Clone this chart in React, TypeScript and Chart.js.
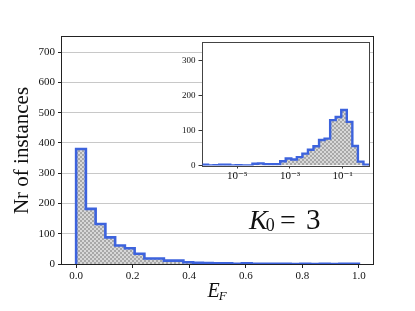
import React, { useEffect, useRef } from "react";
import { Chart, registerables } from "chart.js";

Chart.register(...registerables);

// ---------------- data ----------------
// main histogram of E_F (linear bins between the range below)
const mainBinRange = [0, 1];
const mainCounts = [380, 182, 132, 88, 61, 52, 34, 18, 18, 11, 11, 6, 4, 3, 2, 2, 1, 2, 1, 1, 1, 1, 0, 1, 0, 1, 0, 1, 1];
const mainXLimits = [-0.05, 1.05];
const mainYLimits = [0, 750];
const mainXTicks = [0, 0.2, 0.4, 0.6, 0.8, 1.0];
const mainYTicks = [0, 100, 200, 300, 400, 500, 600, 700];

// inset histogram (log10-spaced bins between the exponents below)
const insetLogBinRange = [-6.32, 0];
const insetCounts = [2, 0, 1, 2, 2, 0, 1, 0, 0, 5, 6, 4, 4, 4, 12, 20, 17, 24, 34, 45, 55, 73, 77, 130, 139, 159, 125, 56, 11, 2];
const insetYLimits = [0, 350];
const insetXTicks = [1e-5, 1e-3, 1e-1];
const insetYTicks = [0, 100, 200, 300];

const yTitle = "Nr of instances";
const annotation = { sym: "K", sub: "0", eq: "=", val: "3" };
const xTitle = { sym: "E", sub: "F" };

// --------------------------------------
const SERIF = '"Liberation Serif", "DejaVu Serif", serif';
const LINE = "#3d63dd";
const INK = "#111111";

function linEdges(lo: number, hi: number, n: number): number[] {
  return Array.from({ length: n + 1 }, (_, i) => lo + ((hi - lo) * i) / n);
}
function stepPoints(edges: number[], counts: number[]) {
  const pts: { x: number; y: number }[] = [{ x: edges[0], y: 0 }];
  counts.forEach((c, i) => pts.push({ x: edges[i], y: c }));
  pts.push({ x: edges[counts.length], y: 0 });
  return pts;
}
function makeHatch(): CanvasPattern | string {
  const c = document.createElement("canvas");
  c.width = 4;
  c.height = 4;
  const g = c.getContext("2d");
  if (!g) return "#bdbdbd";
  g.fillStyle = "#d8d8d8";
  g.fillRect(0, 0, 4, 4);
  g.fillStyle = "#a8a8a8";
  g.fillRect(0, 0, 2, 2);
  g.fillRect(2, 2, 2, 2);
  return g.createPattern(c, "repeat") || "#bdbdbd";
}
const SUP: Record<string, string> = {
  "-": "\u207B", "0": "\u2070", "1": "\u00B9", "2": "\u00B2", "3": "\u00B3",
  "4": "\u2074", "5": "\u2075", "6": "\u2076", "7": "\u2077", "8": "\u2078", "9": "\u2079",
};
function powLabel(v: number): string {
  const e = String(Math.round(Math.log10(v)));
  return "10" + e.split("").map((ch) => SUP[ch] || ch).join("");
}

function spines(color: string) {
  return {
    id: "spines",
    beforeDatasetsDraw(chart: any) {
      const { ctx, chartArea: a } = chart;
      ctx.save();
      ctx.strokeStyle = color;
      ctx.lineWidth = 1;
      const l = Math.round(a.left) - 0.5;
      const t = Math.round(a.top) - 0.5;
      const r = Math.round(a.right) + 0.5;
      const b = Math.round(a.bottom) + 0.5;
      ctx.strokeRect(l, t, r - l, b - t);
      ctx.restore();
    },
  };
}

const mainLabels = {
  id: "mainLabels",
  afterDraw(chart: any) {
    const { ctx, chartArea: a } = chart;
    ctx.save();
    ctx.fillStyle = INK;
    ctx.textBaseline = "alphabetic";
    ctx.textAlign = "left";
    // x title E_F
    const cx = (a.left + a.right) / 2;
    ctx.font = `italic 20px ${SERIF}`;
    const wE = ctx.measureText(xTitle.sym).width;
    ctx.font = `italic 13px ${SERIF}`;
    const wF = ctx.measureText(xTitle.sub).width;
    const x0 = cx - (wE + wF) / 2;
    ctx.font = `italic 20px ${SERIF}`;
    ctx.fillText(xTitle.sym, x0, 296.5);
    ctx.font = `italic 13px ${SERIF}`;
    ctx.fillText(xTitle.sub, x0 + wE - 1, 299.5);
    // annotation K_0 = 3
    const ax = 249;
    const ay = 228.5;
    ctx.font = `italic 28px ${SERIF}`;
    ctx.fillText(annotation.sym, ax, ay);
    const wK = ctx.measureText(annotation.sym).width;
    ctx.font = `18px ${SERIF}`;
    ctx.fillText(annotation.sub, ax + wK - 2, ay + 2);
    ctx.font = `28px ${SERIF}`;
    ctx.fillText(annotation.eq, ax + 31, ay);
    ctx.font = `29px ${SERIF}`;
    ctx.fillText(annotation.val, ax + 57, ay);
    ctx.restore();
  },
};

const whiteArea = {
  id: "whiteArea",
  beforeDraw(chart: any) {
    const { ctx, chartArea: a } = chart;
    ctx.save();
    ctx.fillStyle = "#ffffff";
    ctx.fillRect(a.left, a.top, a.right - a.left, a.bottom - a.top);
    ctx.restore();
  },
};

export default function App() {
  const mainRef = useRef<HTMLCanvasElement | null>(null);
  const insetRef = useRef<HTMLCanvasElement | null>(null);

  useEffect(() => {
    if (!mainRef.current || !insetRef.current) return;
    const hatch = makeHatch();

    const mainEdges = linEdges(mainBinRange[0], mainBinRange[1], mainCounts.length);
    const main = new Chart(mainRef.current, {
      type: "line",
      data: {
        datasets: [
          {
            data: stepPoints(mainEdges, mainCounts),
            stepped: "before",
            borderColor: LINE,
            borderWidth: 2.6,
            backgroundColor: hatch as any,
            fill: "origin",
            pointRadius: 0,
            borderJoinStyle: "miter",
          } as any,
        ],
      },
      options: {
        responsive: false,
        animation: false,
        devicePixelRatio: 1,
        layout: { padding: { left: 0, top: 37, right: 42, bottom: 0 } },
        plugins: { legend: { display: false }, tooltip: { enabled: false } },
        scales: {
          x: {
            type: "linear",
            min: mainXLimits[0],
            max: mainXLimits[1],
            afterBuildTicks: (s: any) => {
              s.ticks = mainXTicks.map((v) => ({ value: v }));
            },
            afterFit: (s: any) => {
              s.height = 47;
            },
            border: { display: false },
            grid: { drawOnChartArea: false, drawTicks: true, tickLength: 4, tickColor: "#222", tickWidth: 1 },
            ticks: {
              autoSkip: false,
              maxRotation: 0,
              padding: 2,
              color: INK,
              font: { family: SERIF, size: 11 },
              callback: (v: any) => Number(v).toFixed(1),
            },
          },
          y: {
            type: "linear",
            min: mainYLimits[0],
            max: mainYLimits[1],
            afterBuildTicks: (s: any) => {
              s.ticks = mainYTicks.map((v) => ({ value: v }));
            },
            afterFit: (s: any) => {
              s.width = 62;
            },
            border: { display: false },
            grid: { color: "#c8c8c8", lineWidth: 1, drawTicks: true, tickLength: 4, tickColor: "#222", tickWidth: 1 },
            ticks: { padding: 3, color: INK, font: { family: SERIF, size: 11 } },
            title: {
              display: true,
              text: yTitle,
              color: INK,
              font: { family: SERIF, size: 21 },
              padding: { top: 10, bottom: 0 },
            },
          },
        },
      },
      plugins: [spines("#222"), mainLabels],
    });

    const insetEdges = linEdges(insetLogBinRange[0], insetLogBinRange[1], insetCounts.length).map((e) => Math.pow(10, e));
    const inset = new Chart(insetRef.current, {
      type: "line",
      data: {
        datasets: [
          {
            data: stepPoints(insetEdges, insetCounts),
            stepped: "before",
            borderColor: LINE,
            borderWidth: 2.4,
            backgroundColor: hatch as any,
            fill: "origin",
            pointRadius: 0,
            borderJoinStyle: "miter",
          } as any,
        ],
      },
      options: {
        responsive: false,
        animation: false,
        devicePixelRatio: 1,
        layout: { padding: { left: 0, top: 6.5, right: 6, bottom: 0 } },
        plugins: { legend: { display: false }, tooltip: { enabled: false } },
        scales: {
          x: {
            type: "logarithmic",
            min: Math.pow(10, insetLogBinRange[0]),
            max: Math.pow(10, insetLogBinRange[1]),
            afterBuildTicks: (s: any) => {
              s.ticks = insetXTicks.map((v) => ({ value: v, major: true }));
            },
            afterFit: (s: any) => {
              s.height = 21.5;
            },
            border: { display: false },
            grid: { drawOnChartArea: false, drawTicks: true, tickLength: 3, tickColor: "#333", tickWidth: 1 },
            ticks: {
              autoSkip: false,
              maxRotation: 0,
              padding: 1,
              color: INK,
              font: { family: SERIF, size: 11 },
              callback: (v: any) => powLabel(Number(v)),
            },
          },
          y: {
            type: "linear",
            min: insetYLimits[0],
            max: insetYLimits[1],
            afterBuildTicks: (s: any) => {
              s.ticks = insetYTicks.map((v) => ({ value: v }));
            },
            afterFit: (s: any) => {
              s.width = 32.5;
            },
            border: { display: false },
            grid: { drawOnChartArea: false, drawTicks: true, tickLength: 4, tickColor: "#333", tickWidth: 1 },
            ticks: { padding: 3, color: INK, font: { family: SERIF, size: 9 } },
          },
        },
      },
      plugins: [whiteArea, spines("#444")],
    });

    return () => {
      main.destroy();
      inset.destroy();
    };
  }, []);

  return (
    <div style={{ position: "absolute", left: 0, top: 0, width: 415, height: 311, background: "#fff", overflow: "hidden" }}>
      <canvas ref={mainRef} width={415} height={311} style={{ position: "absolute", left: 0, top: 0, width: 415, height: 311 }} />
      <canvas ref={insetRef} width={205} height={152} style={{ position: "absolute", left: 170, top: 35, width: 205, height: 152 }} />
    </div>
  );
}
